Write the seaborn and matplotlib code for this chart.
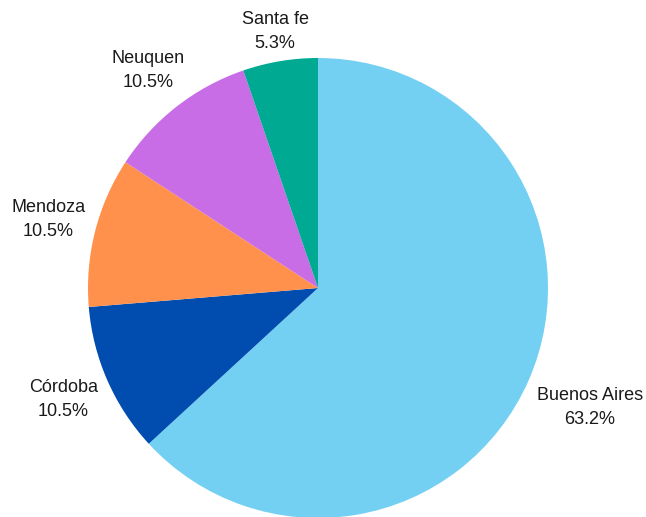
import numpy as np
import matplotlib
matplotlib.use("Agg")
import matplotlib.pyplot as plt
import seaborn as sns

# Provinces and their counts (shares shown as percentages)
provinces = ["Buenos Aires", "Córdoba", "Mendoza", "Neuquen", "Santa fe"]
counts = [12, 2, 2, 2, 1]
colors = ["#74D0F2", "#004CAF", "#FF914D", "#C86DE6", "#00A991"]

# Radial distance of each label centre, in units of the pie radius
label_dist = [1.29, 1.21, 1.21, 1.20, 1.13]

sns.set_theme(style="white")
plt.rcParams["font.family"] = ["Liberation Sans", "DejaVu Sans"]

fig = plt.figure(figsize=(6.46, 5.17), dpi=100)
W, H = 646, 517
cx, cy, r = 318, 288, 230
ax = fig.add_axes([(cx - r) / W, (H - cy - r) / H, 2 * r / W, 2 * r / H])

wedges, _ = ax.pie(
    counts,
    colors=colors,
    startangle=90,
    counterclock=False,
    radius=1.0,
    wedgeprops=dict(linewidth=0),
)
ax.set_xlim(-1, 1)
ax.set_ylim(-1, 1)
ax.set_axis_off()

total = sum(counts)
for w, name, c, d in zip(wedges, provinces, counts, label_dist):
    ang = np.deg2rad((w.theta1 + w.theta2) / 2)
    ax.text(
        d * np.cos(ang), d * np.sin(ang),
        f"{name}\n{100 * c / total:.1f}%",
        ha="center", va="center", fontsize=13, color="#1a1a1a",
        linespacing=1.55, clip_on=False,
    )

fig.savefig("out.png", dpi=100)
